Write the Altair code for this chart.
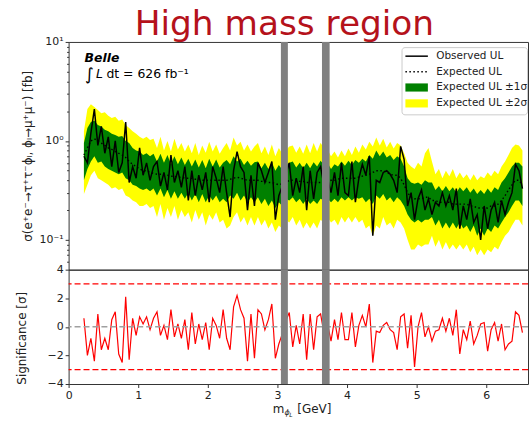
import altair as alt
import pandas as pd

# ---------------- data ----------------
mass = [0.22, 0.27, 0.32, 0.37, 0.42, 0.47, 0.52, 0.57, 0.62, 0.67,
        0.72, 0.77, 0.82, 0.87, 0.92, 0.97, 1.02, 1.07, 1.12, 1.17,
        1.22, 1.27, 1.32, 1.37, 1.42, 1.47, 1.52, 1.57, 1.62, 1.67,
        1.72, 1.77, 1.82, 1.87, 1.92, 1.97, 2.02, 2.07, 2.12, 2.17,
        2.22, 2.27, 2.32, 2.37, 2.42, 2.47, 2.52, 2.57, 2.62, 2.67,
        2.72, 2.77, 2.82, 2.87, 2.92, 2.97, 3.02, 3.07, 3.12, 3.17,
        3.22, 3.27, 3.32, 3.37, 3.42, 3.47, 3.52, 3.57, 3.62, 3.67,
        3.72, 3.77, 3.82, 3.87, 3.92, 3.97, 4.02, 4.07, 4.12, 4.17,
        4.22, 4.27, 4.32, 4.37, 4.42, 4.47, 4.52, 4.57, 4.62, 4.67,
        4.72, 4.77, 4.82, 4.87, 4.92, 4.97, 5.02, 5.07, 5.12, 5.17,
        5.22, 5.27, 5.32, 5.37, 5.42, 5.47, 5.52, 5.57, 5.62, 5.67,
        5.72, 5.77, 5.82, 5.87, 5.92, 5.97, 6.02, 6.07, 6.12, 6.17,
        6.22, 6.27, 6.32, 6.37, 6.42, 6.47, 6.52]

expected_ul = [0.72, 0.85, 1.00, 1.05, 1.00, 0.95, 0.90, 0.85, 0.82, 0.78,
               0.75, 0.72, 0.68, 0.62, 0.58, 0.55, 0.52, 0.50, 0.50, 0.48,
               0.47, 0.46, 0.46, 0.45, 0.45, 0.44, 0.44, 0.43, 0.43, 0.42,
               0.42, 0.42, 0.41, 0.41, 0.40, 0.40, 0.40, 0.40, 0.40, 0.40,
               0.40, 0.40, 0.41, 0.42, 0.43, 0.42, 0.41, 0.40, 0.40, 0.40,
               0.40, 0.39, 0.39, 0.38, 0.38, 0.37, 0.36, 0.37, 0.38, 0.40,
               0.40, 0.40, 0.39, 0.39, 0.38, 0.38, 0.38, 0.38, 0.38, 0.39,
               0.39, 0.40, 0.40, 0.41, 0.42, 0.42, 0.42, 0.42, 0.42, 0.43,
               0.44, 0.45, 0.46, 0.48, 0.50, 0.50, 0.50, 0.48, 0.46, 0.45,
               0.45, 0.42, 0.36, 0.30, 0.27, 0.26, 0.26, 0.26, 0.27, 0.27,
               0.25, 0.25, 0.24, 0.24, 0.24, 0.24, 0.23, 0.23, 0.23, 0.23,
               0.23, 0.22, 0.22, 0.21, 0.21, 0.21, 0.21, 0.22, 0.22, 0.23,
               0.25, 0.28, 0.32, 0.36, 0.40, 0.40, 0.36]

hi1 = [0.95, 1.35, 1.55, 1.60, 1.45, 1.40, 1.30, 1.25, 1.18, 1.15,
       1.10, 1.12, 1.00, 0.95, 0.85, 0.80, 0.78, 0.72, 0.75, 0.70,
       0.74, 0.62, 0.74, 0.60, 0.72, 0.58, 0.70, 0.58, 0.68, 0.57,
       0.66, 0.55, 0.65, 0.54, 0.64, 0.53, 0.66, 0.55, 0.65, 0.54,
       0.60, 0.64, 0.58, 0.70, 0.62, 0.66, 0.57, 0.63, 0.56, 0.61,
       0.62, 0.53, 0.60, 0.52, 0.61, 0.50, 0.57, 0.51, 0.56, 0.60,
       0.62, 0.54, 0.60, 0.53, 0.60, 0.53, 0.61, 0.55, 0.63, 0.57,
       0.60, 0.52, 0.58, 0.55, 0.62, 0.56, 0.63, 0.57, 0.64, 0.60,
       0.66, 0.62, 0.72, 0.66, 0.80, 0.70, 0.78, 0.68, 0.72, 0.64,
       0.70, 0.66, 0.55, 0.42, 0.38, 0.37, 0.38, 0.36, 0.40, 0.38,
       0.38, 0.32, 0.35, 0.31, 0.35, 0.31, 0.34, 0.30, 0.34, 0.31,
       0.34, 0.30, 0.33, 0.29, 0.32, 0.29, 0.33, 0.30, 0.34, 0.32,
       0.38, 0.42, 0.48, 0.55, 0.60, 0.60, 0.55]

lo1 = [0.40, 0.52, 0.62, 0.70, 0.60, 0.62, 0.55, 0.52, 0.50, 0.48,
       0.46, 0.48, 0.42, 0.40, 0.36, 0.35, 0.33, 0.32, 0.33, 0.31,
       0.33, 0.28, 0.33, 0.27, 0.32, 0.26, 0.31, 0.26, 0.30, 0.26,
       0.30, 0.25, 0.29, 0.24, 0.29, 0.24, 0.28, 0.25, 0.28, 0.24,
       0.26, 0.24, 0.28, 0.26, 0.30, 0.25, 0.28, 0.24, 0.27, 0.24,
       0.27, 0.23, 0.26, 0.22, 0.25, 0.21, 0.24, 0.22, 0.26, 0.25,
       0.27, 0.24, 0.26, 0.23, 0.26, 0.23, 0.25, 0.23, 0.26, 0.25,
       0.26, 0.24, 0.26, 0.24, 0.27, 0.25, 0.27, 0.25, 0.27, 0.26,
       0.27, 0.24, 0.26, 0.23, 0.28, 0.26, 0.29, 0.25, 0.27, 0.24,
       0.27, 0.25, 0.22, 0.18, 0.16, 0.15, 0.16, 0.15, 0.16, 0.16,
       0.17, 0.14, 0.16, 0.13, 0.15, 0.13, 0.15, 0.13, 0.15, 0.13,
       0.14, 0.12, 0.14, 0.11, 0.13, 0.11, 0.13, 0.12, 0.14, 0.13,
       0.15, 0.17, 0.19, 0.22, 0.25, 0.25, 0.22]

hi2 = [1.25, 2.10, 2.35, 2.20, 2.05, 1.90, 1.95, 1.80, 1.70, 1.75,
       1.60, 1.65, 1.45, 1.35, 1.25, 1.18, 1.10, 1.05, 1.10, 1.02,
       1.05, 0.85, 1.10, 0.80, 1.00, 0.78, 1.05, 0.82, 0.95, 0.78,
       0.92, 0.75, 0.95, 0.72, 0.90, 0.76, 0.98, 0.78, 0.92, 0.74,
       0.85, 0.95, 0.80, 1.08, 0.90, 0.98, 0.80, 0.92, 0.78, 0.88,
       0.95, 0.75, 0.88, 0.72, 0.92, 0.70, 0.85, 0.74, 0.80, 0.88,
       0.90, 0.76, 0.88, 0.74, 0.92, 0.75, 0.95, 0.78, 0.96, 0.84,
       0.82, 0.70, 0.78, 0.68, 0.80, 0.70, 0.84, 0.72, 0.88, 0.76,
       0.92, 0.82, 0.98, 0.88, 1.08, 0.90, 1.05, 0.86, 0.98, 0.84,
       0.95, 0.90, 0.75, 0.60, 0.55, 0.52, 0.60, 0.55, 0.75, 0.85,
       0.62, 0.46, 0.52, 0.42, 0.50, 0.44, 0.52, 0.42, 0.48, 0.42,
       0.46, 0.40, 0.46, 0.40, 0.44, 0.42, 0.48, 0.44, 0.50, 0.46,
       0.55, 0.62, 0.72, 0.85, 0.92, 0.90, 0.80]

lo2 = [0.29, 0.36, 0.45, 0.50, 0.42, 0.40, 0.38, 0.36, 0.33, 0.34,
       0.32, 0.33, 0.28, 0.27, 0.25, 0.24, 0.22, 0.22, 0.23, 0.21,
       0.22, 0.17, 0.23, 0.16, 0.21, 0.17, 0.22, 0.16, 0.20, 0.17,
       0.19, 0.15, 0.20, 0.16, 0.19, 0.14, 0.18, 0.16, 0.19, 0.15,
       0.16, 0.13, 0.14, 0.17, 0.19, 0.15, 0.17, 0.14, 0.17, 0.14,
       0.17, 0.14, 0.16, 0.13, 0.15, 0.12, 0.14, 0.13, 0.16, 0.15,
       0.17, 0.14, 0.16, 0.13, 0.15, 0.13, 0.15, 0.13, 0.16, 0.15,
       0.17, 0.15, 0.16, 0.14, 0.17, 0.15, 0.17, 0.15, 0.17, 0.15,
       0.16, 0.13, 0.14, 0.11, 0.14, 0.13, 0.17, 0.14, 0.15, 0.13,
       0.16, 0.15, 0.13, 0.10, 0.08, 0.08, 0.09, 0.085, 0.09, 0.09,
       0.11, 0.085, 0.10, 0.08, 0.095, 0.08, 0.09, 0.08, 0.09, 0.08,
       0.09, 0.075, 0.085, 0.07, 0.08, 0.07, 0.08, 0.075, 0.085, 0.08,
       0.095, 0.11, 0.12, 0.14, 0.16, 0.16, 0.14]

observed_ul = [0.70, 0.60, 1.20, 2.10, 0.90, 1.40, 0.75, 1.10, 0.55, 1.00,
               0.48, 0.60, 1.55, 0.38, 0.55, 0.42, 0.85, 0.45, 0.60, 0.40,
               0.55, 0.62, 0.35, 0.48, 0.32, 0.72, 0.38, 0.50, 0.34, 0.55,
               0.25, 0.50, 0.28, 0.45, 0.32, 0.48, 0.24, 0.55, 0.42, 0.30,
               0.55, 0.30, 0.17, 0.50, 0.78, 0.55, 0.48, 0.20, 0.45, 0.22,
               0.60, 0.50, 0.38, 0.48, 0.62, 0.16, 0.28, 0.35, 0.45, 0.60,
               0.28, 0.42, 0.30, 0.55, 0.20, 0.50, 0.26, 0.48, 0.55, 0.35,
               0.42, 0.30, 0.48, 0.28, 0.60, 0.30, 0.28, 0.62, 0.24, 0.42,
               0.58, 0.45, 0.70, 0.11, 0.40, 0.38, 0.48, 0.50, 0.46, 0.40,
               0.30, 0.88, 0.65, 0.22, 0.30, 0.16, 0.26, 0.32, 0.20, 0.26,
               0.18, 0.24, 0.22, 0.30, 0.22, 0.28, 0.20, 0.33, 0.13, 0.22,
               0.16, 0.26, 0.15, 0.18, 0.10, 0.22, 0.13, 0.20, 0.24, 0.15,
               0.25, 0.18, 0.24, 0.30, 0.58, 0.50, 0.33]

significance = [0.6, -2.0, -0.8, -2.4, 0.9, -1.6, -0.8, -1.6, 0.5, 1.05,
                -1.9, -2.5, 2.1, -2.3, 0.6, -0.6, 0.7, 0.2, 0.7, -0.2,
                0.6, 1.05, -0.6, 0.1, -0.9, 1.2, -0.7, 0.2, -0.8, 0.5,
                -1.6, 1.0, -1.2, 0.2, -0.9, 0.3, -1.6, 0.6, 0.1, -0.8,
                1.2, -0.8, -1.6, 1.4, 2.2, 1.2, 0.6, -2.4, 0.9, -2.2,
                1.2, 0.9, -0.2, 0.5, 1.6, -2.2, -1.2, -0.5, 0.4, 1.0,
                -1.4, 0.1, -1.2, 0.9, -2.3, 0.9, -1.6, 0.7, 0.9, -0.5,
                0.2, -1.0, 0.5, -0.9, 1.0, -0.9, -0.9, 1.0, -1.4, 0.1,
                0.8, 0.0, 1.6, -2.5, -0.3, -0.4, 0.1, 0.3, -0.2, -0.4,
                -1.6, 0.7, 0.9, -1.5, 0.8, -2.8, 0.0, 1.0, -0.7, 0.0,
                -1.0, -0.3, -0.2, 0.6, -0.3, 0.6, -0.6, 1.2, -1.9, -0.2,
                -0.9, 0.4, -1.2, -0.6, 0.2, 0.3, -1.7, -0.2, 0.3, -1.0,
                0.2, -1.6, -1.2, -1.0, 1.05, 0.8, -0.4]

veto_lo = [3.05, 3.64]
veto_hi = [3.15, 3.75]
sigma3_levels = [-3, 3]
zero_level = [0]

x_ticks = [0, 1, 2, 3, 4, 5, 6]
sig_ticks = [-4, -2, 0, 2, 4]
log_ticks = [0.06, 0.07, 0.08, 0.09, 0.1, 0.2, 0.3, 0.4, 0.5, 0.6, 0.7,
             0.8, 0.9, 1, 2, 3, 4, 5, 6, 7, 8, 9, 10]

legend_labels = ["Observed UL", "Expected UL", "Expected UL \u00b11\u03c3",
                 "Expected UL \u00b12\u03c3"]
title_text = "High mass region"
exp_label = "Belle"
lumi_label = "dt = 626 fb\u207b\u00b9"

# ---------------- chart ----------------
df = pd.DataFrame({"m": mass, "exp": expected_ul, "obs": observed_ul,
                   "lo1": lo1, "hi1": hi1, "lo2": lo2, "hi2": hi2,
                   "sig": significance})
veto = pd.DataFrame({"lo": veto_lo, "hi": veto_hi})
lvl3 = pd.DataFrame({"y": sigma3_levels})
lvl0 = pd.DataFrame({"y": zero_level})
one = pd.DataFrame({"k": [0]})

W, HT, HB = 462, 229, 115
FONT = "DejaVu Sans"

xs = alt.Scale(domain=[0, 6.6], nice=False, zero=False)
ys_top = alt.Scale(type="log", domain=[0.05, 10], nice=False)
ys_bot = alt.Scale(domain=[-4, 4], nice=False, zero=False)

major = "datum.value == 0.1 || datum.value == 1 || datum.value == 10"
top_axis = alt.Axis(
    values=log_ticks,
    labelExpr="datum.value == 10 ? '10\u00b9' : datum.value == 1 ? '10\u2070' : datum.value == 0.1 ? '10\u207b\u00b9' : ''",
    tickSize={"condition": {"test": major, "value": 3.5}, "value": 2},
    labelOverlap=False, labelFlush=False, domain=False, grid=False,
    title="\u03c3(e\u207ae\u207b\u2192\u03c4\u207a\u03c4\u207b\u03d5\u2097, \u03d5\u2097\u2192\u03bc\u207a\u03bc\u207b) [fb]",
    titleX=-41.5, titleY=HT / 2, titleAngle=270, titleAlign="center",
    titleBaseline="middle", labelPadding=2,
)
bot_axis = alt.Axis(
    values=sig_ticks, format="d", tickSize=3.5, domain=False, grid=False,
    labelFlush=False, labelOverlap=False,
    title="Significance [\u03c3]", titleX=-47.5, titleY=68.5, titleAngle=270,
    titleAlign="center", titleBaseline="middle", labelPadding=2,
)
bot_x_axis = alt.Axis(values=x_ticks, format="d", tickSize=3.5, domain=False,
                      grid=False, title=None, labelPadding=2, labelFlush=False,
                      labelOverlap=False)

X = alt.X("m:Q", scale=xs, axis=None)
base = alt.Chart(df)

yellow = base.mark_area(color="#ffff00").encode(
    x=X, y=alt.Y("lo2:Q", scale=ys_top, axis=top_axis), y2="hi2:Q")
green = base.mark_area(color="#008000").encode(
    x=X, y=alt.Y("lo1:Q", scale=ys_top, axis=top_axis), y2="hi1:Q")
exp_line = base.mark_line(color="black", strokeWidth=1.4, strokeDash=[1.5, 2.5]).encode(
    x=X, y=alt.Y("exp:Q", scale=ys_top, axis=top_axis))
obs_line = base.mark_line(color="black", strokeWidth=1.5).encode(
    x=X, y=alt.Y("obs:Q", scale=ys_top, axis=top_axis))
bars_top = alt.Chart(veto).mark_rect(color="#808080").encode(
    x=alt.X("lo:Q", scale=xs, axis=None), x2="hi:Q")

# invisible anchor fixing the plot origin at (68, 40) in the page
anchor = alt.Chart(one).mark_rect(opacity=0).encode(
    x=alt.value(-68), x2=alt.value(-66), y=alt.value(-40), y2=alt.value(-38))

title_mark = alt.Chart(one).mark_text(
    font="DejaVu Sans", fontSize=34.5, color="#b5121b", align="center", baseline="alphabetic"
).encode(x=alt.value(217), y=alt.value(-6.5), text=alt.value(title_text))

belle = alt.Chart(one).mark_text(
    font=FONT, fontSize=12.5, fontWeight="bold", fontStyle="italic", align="left",
    baseline="alphabetic", color="black"
).encode(x=alt.value(16), y=alt.value(20.5), text=alt.value(exp_label))
integral = alt.Chart(one).mark_text(
    font=FONT, fontSize=17, align="left", baseline="alphabetic", color="black"
).encode(x=alt.value(16.5), y=alt.value(38.5), text=alt.value("\u222b"))
lsym = alt.Chart(one).mark_text(
    font=FONT, fontSize=12.5, fontStyle="italic", align="left", baseline="alphabetic",
    color="black"
).encode(x=alt.value(27.5), y=alt.value(36.7), text=alt.value("L"))
lumi = alt.Chart(one).mark_text(
    font=FONT, fontSize=12.5, align="left", baseline="alphabetic", color="black"
).encode(x=alt.value(38), y=alt.value(36.7), text=alt.value(lumi_label))

leg_box = alt.Chart(one).mark_rect(
    fill="white", fillOpacity=0.85, stroke="#cccccc", strokeWidth=1, cornerRadius=3
).encode(x=alt.value(335.3), x2=alt.value(461.5), y=alt.value(5.7), y2=alt.value(73.3))
leg_obs = alt.Chart(one).mark_rule(color="black", strokeWidth=1.5).encode(
    x=alt.value(338.7), x2=alt.value(361.3), y=alt.value(14.3))
leg_exp = alt.Chart(one).mark_rule(color="black", strokeWidth=1.5, strokeDash=[1.5, 2.5]).encode(
    x=alt.value(338.7), x2=alt.value(361.3), y=alt.value(30))
leg_g = alt.Chart(one).mark_rect(color="#008000").encode(
    x=alt.value(338.7), x2=alt.value(361.3), y=alt.value(41.7), y2=alt.value(49.9))
leg_y = alt.Chart(one).mark_rect(color="#ffff00").encode(
    x=alt.value(338.7), x2=alt.value(361.3), y=alt.value(57.7), y2=alt.value(65.9))
leg_texts = [
    alt.Chart(one).mark_text(font=FONT, fontSize=10.5, align="left", baseline="middle",
                             color="#222").encode(
        x=alt.value(369.7), y=alt.value(yy), text=alt.value(lab))
    for lab, yy in zip(legend_labels, [14.3, 30, 45.7, 61.7])
]

top = alt.layer(yellow, green, exp_line, obs_line, bars_top, anchor, title_mark,
                belle, integral, lsym, lumi, leg_box, leg_obs, leg_exp, leg_g,
                leg_y, *leg_texts).properties(width=W, height=HT)

# bottom panel
zero_rule = alt.Chart(lvl0).mark_rule(color="#a0a0a0", strokeDash=[6, 3], strokeWidth=1.5).encode(
    y=alt.Y("y:Q", scale=ys_bot, axis=bot_axis))
red_rules = alt.Chart(lvl3).mark_rule(color="red", strokeDash=[6, 3], strokeWidth=1.3).encode(
    y=alt.Y("y:Q", scale=ys_bot, axis=bot_axis))
sig_line = base.mark_line(color="red", strokeWidth=1.2).encode(
    x=alt.X("m:Q", scale=xs, axis=bot_x_axis),
    y=alt.Y("sig:Q", scale=ys_bot, axis=bot_axis))
bars_bot = alt.Chart(veto).mark_rect(color="#808080").encode(
    x=alt.X("lo:Q", scale=xs, axis=bot_x_axis), x2="hi:Q")

xt_m = alt.Chart(one).mark_text(font=FONT, fontSize=12, align="left", baseline="alphabetic",
                                color="#222").encode(
    x=alt.value(205.3), y=alt.value(144.3), text=alt.value("m"))
xt_phi = alt.Chart(one).mark_text(font=FONT, fontSize=8, fontStyle="italic", align="left",
                                  baseline="alphabetic", color="#222").encode(
    x=alt.value(217), y=alt.value(146.5), text=alt.value("\u03d5"))
xt_l = alt.Chart(one).mark_text(font=FONT, fontSize=6, fontStyle="italic", align="left",
                                baseline="alphabetic", color="#222").encode(
    x=alt.value(221.8), y=alt.value(148.3), text=alt.value("L"))
xt_gev = alt.Chart(one).mark_text(font=FONT, fontSize=12, align="left", baseline="alphabetic",
                                  color="#222").encode(
    x=alt.value(230), y=alt.value(144.3), text=alt.value("[GeV]"))

bottom = alt.layer(sig_line, zero_rule, red_rules, bars_bot, xt_m, xt_phi, xt_l,
                   xt_gev).properties(width=W, height=HB)

chart = alt.vconcat(top, bottom, spacing=0, bounds="flush").properties(
    padding={"left": 0, "top": 0, "right": 0, "bottom": 0}
).configure_view(stroke="#333333", strokeWidth=1).configure_axis(
    labelFont=FONT, labelFontSize=11, labelColor="#222222", tickColor="#333333",
    titleFont=FONT, titleFontSize=12, titleColor="#222222", titleFontWeight="normal",
)

chart.save("out.html", embed_options={"renderer": "svg", "actions": False})
